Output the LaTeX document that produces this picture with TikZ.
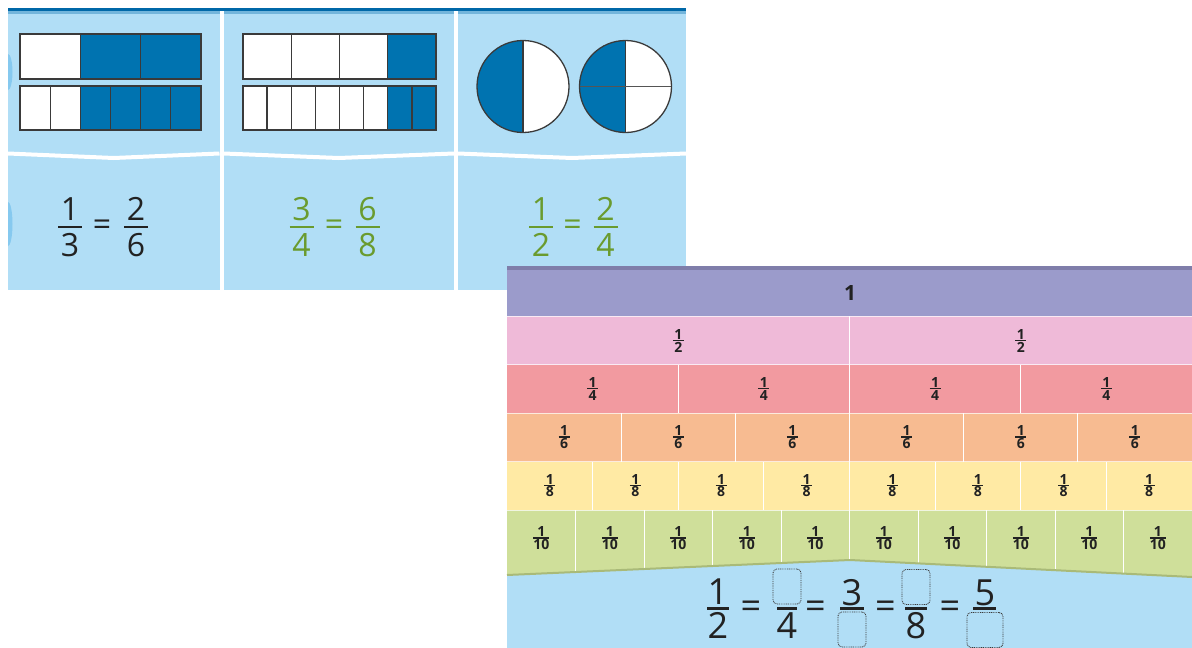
\documentclass[tikz,border=0pt]{standalone}
\usepackage{fontspec}
\setmainfont{Open Sans}

\definecolor{panelblue}{HTML}{B1DEF6}
\definecolor{topline}{HTML}{0068A8}
\definecolor{tabblue}{HTML}{86C9EF}
\definecolor{shadeblue}{HTML}{0073B0}
\definecolor{cellgray}{HTML}{3A3A3A}
\definecolor{inkdark}{HTML}{222222}
\definecolor{leafgreen}{HTML}{6A9B2E}
\definecolor{boxgray}{HTML}{555555}
\definecolor{dotgray}{HTML}{3C3C3C}
\definecolor{wallstrip}{HTML}{7F7EAA}
\definecolor{wallpurple}{HTML}{9B9BCB}
\definecolor{wallpink}{HTML}{EFBAD8}
\definecolor{wallred}{HTML}{F29AA0}
\definecolor{wallorange}{HTML}{F7BB91}
\definecolor{wallyellow}{HTML}{FFEAA4}
\definecolor{wallgreen}{HTML}{CFDF9A}
\definecolor{wallshadow}{HTML}{A9BA78}

\tikzset{
  cellline/.style={draw=cellgray, line width=1.3pt},
  bignum/.style={inner sep=0pt, font=\fontsize{32}{38}\selectfont, text=inkdark},
  bignum bar/.style={draw=inkdark, line width=2.2pt},
  greennum/.style={bignum, text=leafgreen},
  greennum bar/.style={bignum bar, draw=leafgreen},
  wallnum/.style={inner sep=0pt, font=\fontsize{14}{16}\selectfont\bfseries, text=inkdark},
  wallnum bar/.style={draw=inkdark, line width=1.1pt},
  eqnum/.style={inner sep=0pt, font=\fontsize{36}{42}\selectfont, text=inkdark},
  eqnum bar/.style={draw=inkdark, line width=2.2pt},
  blank/.style={draw=dotgray, line width=0.9pt, dash pattern=on 0.9pt off 0.9pt,
    rounded corners=4pt, inner sep=0pt, minimum width=28pt, minimum height=35pt},
  divider/.style={draw=white, line width=1pt},
  rowline/.style={draw=white, opacity=0.7, line width=0.8pt},
}

% fraction: style, name, x, bar y, numerator, denominator, offset, bar half-width
\newcommand{\fracat}[8]{%
  \node[#1] (#2num) at (#3,#4-#7) {#5};
  \node[#1] (#2den) at (#3,#4+#7) {#6};
  \draw[#1 bar] (#3-#8,#4) -- (#3+#8,#4);
}

% strip of equal parts: left, right, top, bottom, parts, white parts
\newcommand{\stripbar}[6]{%
  \pgfmathsetmacro\cellw{(#2-#1)/#5}
  \pgfmathtruncatemacro\lastk{#5-1}
  \fill[white] (#1,#3) rectangle ({#1+#6*\cellw},#4);
  \fill[shadeblue] ({#1+#6*\cellw},#3) rectangle (#2,#4);
  \foreach \k in {1,...,\lastk}
    \draw[cellline] ({#1+\k*\cellw},#3) -- ({#1+\k*\cellw},#4);
  \draw[cellline] (#1,#3) rectangle (#2,#4);
}

\begin{document}
\begin{tikzpicture}[x=1pt, y=-1pt]
  \useasboundingbox (0,0) rectangle (1192,648);
  \fill[white] (0,0) rectangle (1192,648);

  % Top panels
  \fill[panelblue] (8,8) rectangle (686,290);
  \fill[topline] (8,8) rectangle (686,11);
  \fill[topline!35!panelblue] (8,11) rectangle (686,14);
  \fill[white] (219.5,11) rectangle (223.5,290);
  \fill[white] (454,11) rectangle (458,290);
  \foreach \a/\b in {8/219.5, 223.5/454, 458/686}
    \draw[white, line width=4pt] (\a,153.5) -- ({(\a+\b)/2},158) -- (\b,153.5);

  % tabs on the left edge
  \begin{scope}
    \clip (8,14) rectangle (30,290);
    \fill[tabblue] (8,72) ellipse [x radius=4.5, y radius=18];
    \fill[tabblue] (8,224) ellipse [x radius=4.5, y radius=22];
  \end{scope}

  % Thirds and sixths
  \stripbar{20}{201}{34}{79}{3}{1}
  \stripbar{20}{201}{86}{130}{6}{2}

  % Quarters and eighths
  \stripbar{243}{436}{34}{79}{4}{3}
  \stripbar{243}{436}{86}{130}{8}{6}

  % Halves and quarters of a circle
  \begin{scope}
    \clip (523,86.5) circle[radius=46];
    \fill[white] (477,40) rectangle (569,133);
    \fill[shadeblue] (477,40) rectangle (523,133);
    \draw[cellline] (523,40) -- (523,133);
  \end{scope}
  \draw[cellline] (523,86.5) circle[radius=46];
  \begin{scope}
    \clip (625.5,86.5) circle[radius=46];
    \fill[white] (579,40) rectangle (672,133);
    \fill[shadeblue] (579,40) rectangle (625.5,133);
    \draw[cellline] (625.5,40) -- (625.5,133);
    \draw[draw=boxgray, line width=1.3pt] (579,86.5) -- (672,86.5);
  \end{scope}
  \draw[cellline] (625.5,86.5) circle[radius=46];

  % Top fractions
  \fracat{bignum}{ta}{70}{227}{1}{3}{18}{12}
  \node[bignum] (teqa) at (102,227.5) {=};
  \fracat{bignum}{tb}{136}{227}{2}{6}{18}{12}
  \fracat{greennum}{tc}{301.5}{227}{3}{4}{18}{12}
  \node[greennum] (teqb) at (334,227.5) {=};
  \fracat{greennum}{td}{367.5}{227}{6}{8}{18}{12}
  \fracat{greennum}{te}{541}{227}{1}{2}{18}{12}
  \node[greennum] (teqc) at (572.5,227.5) {=};
  \fracat{greennum}{tf}{605.5}{227}{2}{4}{18}{12}

  % Fraction wall
  \fill[wallpurple] (507,268) rectangle (1192,316);
  \fill[wallstrip] (507,266) rectangle (1192,269.5);
  \node[wallnum, font=\fontsize{21}{24}\selectfont\bfseries] (whole) at (850,293.5) {1};
  \foreach \n/\top/\bot/\labely/\hw/\rowc in {2/316/364.5/340.5/5.5/wallpink,
      4/364.5/413/388.5/5.5/wallred, 6/413/461.5/437/5.5/wallorange,
      8/461.5/510/485.5/5.5/wallyellow, 10/510/580/538/8/wallgreen} {
    \fill[\rowc] (507,\top) rectangle (1192,\bot);
    \pgfmathsetmacro\w{685/\n}
    \pgfmathtruncatemacro\lastk{\n-1}
    \foreach \k in {1,...,\lastk}
      \draw[divider] ({507+\k*\w},\top) -- ({507+\k*\w},\bot);
    \foreach \k in {1,...,\n} {
      \pgfmathsetmacro\cx{507+(\k-0.5)*\w}
      \fracat{wallnum}{w\n-\k}{\cx}{\labely}{1}{\n}{6.5}{\hw}
    }
  }
  \foreach \y in {316,364.5,413,461.5,510}
    \draw[rowline] (507,\y) -- (1192,\y);

  % Blue strip under the wall
  \fill[panelblue] (507,575) -- (850,560) -- (1192,577) -- (1192,648) -- (507,648) -- cycle;
  \draw[wallshadow, line width=2pt] (507,575) -- (850,560) -- (1192,577);

  % Equation with blanks
  \fracat{eqnum}{qa}{718}{608.5}{1}{2}{16.5}{11}
  \node[eqnum] (qeqa) at (751,610) {=};
  \node[blank] (qbbox) at (787,586.5) {};
  \node[eqnum] (qbden) at (787,625.5) {4};
  \draw[eqnum bar] (777,608.5) -- (797,608.5);
  \node[eqnum] (qeqb) at (815.5,610) {=};
  \node[eqnum] (qcnum) at (852,592.5) {3};
  \node[blank] (qcbox) at (852,629.5) {};
  \draw[eqnum bar] (840,608.5) -- (864,608.5);
  \node[eqnum] (qeqc) at (885.5,610) {=};
  \node[blank] (qdbox) at (916,587) {};
  \node[eqnum] (qdden) at (916,625.5) {8};
  \draw[eqnum bar] (905,608.5) -- (927,608.5);
  \node[eqnum] (qeqd) at (950,610) {=};
  \node[eqnum] (qenum) at (985,592.5) {5};
  \node[blank, minimum width=36pt] (qebox) at (985,630) {};
  \draw[eqnum bar] (973,608.5) -- (996,608.5);
\end{tikzpicture}
\end{document}
